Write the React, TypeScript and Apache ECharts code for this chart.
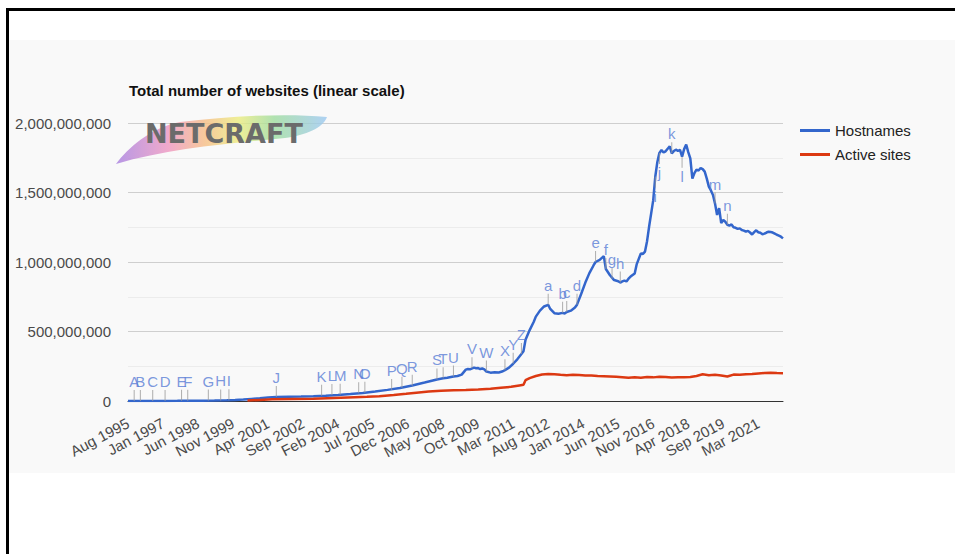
import React, { useEffect, useRef } from "react";
import * as echarts from "echarts";

const chartTitle = "Total number of websites (linear scale)";
const seriesNames = ["Hostnames", "Active sites"];
const logoText = "NETCRAFT";

// x = survey month index counted from Aug 1995; one tick label every 17 months
const tickLabels = [
  "Aug 1995", "Jan 1997", "Jun 1998", "Nov 1999", "Apr 2001", "Sep 2002", "Feb 2004",
  "Jul 2005", "Dec 2006", "May 2008", "Oct 2009", "Mar 2011", "Aug 2012", "Jan 2014",
  "Jun 2015", "Nov 2016", "Apr 2018", "Sep 2019", "Mar 2021",
];
const lastMonth = 318;

// [month index, millions]
const hostnames: [number, number][] = [
  [0, 0.02], [6, 0.1], [12, 0.3], [18, 0.7], [24, 1.2], [30, 1.8], [36, 2.5], [42, 3.5], [48, 5],
  [52, 7], [56, 10], [60, 15], [64, 20], [68, 26], [72, 29], [78, 31], [84, 32], [90, 34], [96, 37],
  [102, 43], [108, 50], [114, 58], [120, 68], [126, 80], [132, 94], [138, 112], [144, 133], [150, 155],
  [153, 163], [155, 168], [158, 176], [160, 180], [162, 190], [164, 226], [165, 230], [166, 228],
  [168, 240], [169, 236], [170, 237], [171, 230], [172, 234], [173, 228], [174, 212], [176, 204],
  [178, 206], [180, 205], [182, 214], [183, 222], [185, 240], [187, 268], [189, 300], [191, 338],
  [192, 358], [193, 440], [195, 510], [197, 570], [198, 607], [200, 650], [202, 680], [204, 692],
  [205, 662], [207, 632], [209, 628], [211, 634], [212, 630], [213, 640], [215, 650], [217, 672],
  [218, 693], [220, 770], [222, 850], [224, 920], [226, 975], [227, 1000], [229, 1015], [231, 1042],
  [232, 950], [234, 905], [236, 870], [238, 862], [239, 852], [240, 860], [241, 866], [242, 860],
  [243, 880], [244, 895], [246, 918], [247, 985], [249, 1062], [250, 1058], [251, 1075], [252, 1150],
  [253, 1255], [254, 1350], [255, 1445], [256, 1615], [257, 1720], [258, 1785], [259, 1805],
  [260, 1788], [261, 1796], [262, 1815], [263, 1832], [264, 1782], [265, 1798], [266, 1808],
  [267, 1800], [268, 1806], [269, 1758], [270, 1812], [271, 1845], [272, 1790], [273, 1745],
  [274, 1600], [275, 1640], [276, 1665], [277, 1658], [278, 1676], [279, 1668], [280, 1650],
  [281, 1600], [282, 1542], [283, 1515], [284, 1482], [285, 1420], [286, 1338], [287, 1388],
  [288, 1280], [289, 1302], [290, 1290], [291, 1268], [292, 1262], [293, 1270], [294, 1250],
  [295, 1246], [296, 1238], [297, 1242], [298, 1230], [299, 1226], [300, 1218], [301, 1224],
  [302, 1212], [303, 1198], [304, 1215], [305, 1228], [306, 1214], [307, 1210], [308, 1200],
  [309, 1204], [310, 1212], [311, 1218], [312, 1216], [313, 1212], [314, 1204], [315, 1196],
  [316, 1190], [317, 1182], [318, 1170],
];

const activeSites: [number, number][] = [
  [58, 3], [64, 8], [70, 12], [80, 15], [90, 17], [100, 22], [110, 27], [116, 30], [122, 35],
  [129, 43], [135, 52], [140, 60], [146, 68], [152, 74], [158, 78], [164, 80], [170, 83], [176, 88],
  [181, 95], [186, 102], [190, 112], [192, 117], [193, 150], [195, 165], [198, 180], [201, 190],
  [204, 194], [207, 192], [210, 188], [213, 186], [216, 188], [219, 187], [222, 184], [225, 183],
  [228, 180], [231, 178], [234, 176], [237, 174], [240, 171], [243, 168], [246, 170], [249, 168],
  [252, 172], [255, 170], [258, 174], [261, 172], [264, 169], [267, 171], [270, 170], [273, 173],
  [276, 180], [279, 192], [282, 186], [285, 188], [288, 184], [291, 176], [294, 190], [297, 189],
  [300, 192], [303, 194], [306, 198], [309, 202], [312, 204], [315, 201], [318, 200],
];

const annotationLetters = [
  "A", "B", "C", "D", "E", "F", "G", "H", "I", "J", "K", "L", "M", "N", "O", "P", "Q", "R", "S", "T",
  "U", "V", "W", "X", "Y", "Z", "a", "b", "c", "d", "e", "f", "g", "h", "i", "j", "k", "l", "m", "n",
];
const annotationMonths = [
  3, 6, 12, 18, 26, 29, 39, 45, 49, 72, 94, 99, 103, 112, 115, 128, 133, 138, 150, 153,
  158, 167, 174, 183, 187, 191, 204, 211, 213, 218, 227, 232, 235, 239, 256, 258, 264, 269, 285, 291,
];
const annotationValues = [
  0.03, 0.1, 0.3, 0.7, 1.5, 1.9, 2.8, 3.6, 4.5, 29, 37, 43, 45, 55, 60, 80, 95, 110, 155, 163,
  176, 235, 212, 222, 268, 338, 692, 634, 640, 693, 1000, 950, 880, 852, 1615, 1785, 1782, 1758, 1420, 1268,
];
const belowLetters = ["i", "j", "l"];

const swooshPath =
  "M116 164 C128 148 150 128 180 122 C230 116 285 113 327 117 C323 128 306 135 285 138 C235 143 170 148 116 164 Z";
echarts.graphic.registerShape("netcraftSwoosh", echarts.graphic.extendPath(swooshPath, {}) as any);

const fmtNum = (v: number) => String(Math.round(v)).replace(/\B(?=(\d{3})+(?!\d))/g, ",");

export default function App() {
  const ref = useRef<HTMLDivElement>(null);
  useEffect(() => {
    if (!ref.current) return;
    const chart = echarts.init(ref.current, undefined, { renderer: "svg" });
    const stem = 11;
    chart.setOption({
      animation: false,
      backgroundColor: "#ffffff",
      textStyle: { fontFamily: "Liberation Sans, Arial, sans-serif" },
      title: {
        text: chartTitle,
        left: 124,
        top: 78,
        textStyle: { fontSize: 15, fontWeight: "bold", color: "#111", fontFamily: "Liberation Sans, Arial, sans-serif" },
      },
      legend: {
        data: seriesNames,
        orient: "vertical",
        left: 795,
        top: 118,
        icon: "rect",
        itemWidth: 30,
        itemHeight: 3,
        itemGap: 9,
        textStyle: { fontSize: 15, color: "#222" },
      },
      grid: { left: 128, right: 172, top: 123, bottom: 153, containLabel: false },
      xAxis: {
        type: "value",
        min: 0,
        max: lastMonth,
        interval: 17,
        axisLine: { show: true, lineStyle: { color: "#333", width: 1 } },
        axisTick: { show: false },
        splitLine: { show: false },
        axisLabel: {
          rotate: 28,
          margin: 21,
          fontSize: 15,
          color: "#4a4a4a",
          showMaxLabel: false,
          formatter: (v: number) => {
            const k = v / 17;
            return Number.isInteger(k) && tickLabels[k] ? tickLabels[k] : "";
          },
        },
      },
      yAxis: {
        type: "value",
        min: 0,
        max: 2000000000,
        interval: 500000000,
        axisLine: { show: false },
        axisTick: { show: false },
        splitLine: { lineStyle: { color: "#cfcfcf", width: 1 } },
        minorTick: { show: false, splitNumber: 2 },
        minorSplitLine: { show: true, lineStyle: { color: "#ececec", width: 1 } },
        axisLabel: { fontSize: 15, color: "#4a4a4a", margin: 17, formatter: (v: number) => fmtNum(v) },
      },
      graphic: [
        { type: "rect", z: -20, shape: { x: 9, y: 40, width: 946, height: 433 }, style: { fill: "#f9f9f9" } },
        { type: "rect", z: 50, shape: { x: 6, y: 8, width: 949, height: 3 }, style: { fill: "#000" } },
        { type: "rect", z: 50, shape: { x: 6, y: 8, width: 3, height: 546 }, style: { fill: "#000" } },
        {
          type: "netcraftSwoosh",
          z: 5,
          x: 0,
          y: 0,
          style: {
            opacity: 0.8,
            fill: new echarts.graphic.LinearGradient(0, 0, 1, 0, [
              { offset: 0, color: "#a77fe0" },
              { offset: 0.25, color: "#ee96c0" },
              { offset: 0.42, color: "#f6bc84" },
              { offset: 0.58, color: "#ecec7e" },
              { offset: 0.75, color: "#9edc9e" },
              { offset: 1, color: "#9cc8f2" },
            ]),
          },
        },
        {
          type: "text",
          z: 6,
          x: 145,
          y: 133,
          style: {
            text: logoText,
            fontSize: 27,
            fontWeight: "bold",
            fontFamily: "DejaVu Sans",
            fill: "#6b6b6b",
            verticalAlign: "middle",
          },
        },
      ],
      series: [
        {
          name: seriesNames[0],
          type: "line",
          symbol: "none",
          z: 3,
          lineStyle: { color: "#3366cc", width: 2.5 },
          itemStyle: { color: "#3366cc" },
          data: hostnames.map(([m, v]) => [m, v * 1e6]),
        },
        {
          name: seriesNames[1],
          type: "line",
          symbol: "none",
          z: 4,
          lineStyle: { color: "#dc3912", width: 2.5 },
          itemStyle: { color: "#dc3912" },
          data: activeSites.map(([m, v]) => [m, v * 1e6]),
        },
        {
          name: "annotations",
          type: "scatter",
          z: 5,
          silent: true,
          symbol: "rect",
          symbolSize: [1, stem],
          symbolOffset: [0, -stem / 2],
          itemStyle: { color: "#9a9a9a" },
          label: {
            show: true,
            position: "top",
            distance: 1,
            color: "#5a7ed6",
            fontSize: 15,
            formatter: (p: any) => p.name,
          },
          data: annotationLetters.map((l, k) => {
            const below = belowLetters.includes(l);
            return {
              name: l,
              value: [annotationMonths[k], annotationValues[k] * 1e6],
              ...(below ? { symbolOffset: [0, stem / 2], label: { position: "bottom" } } : {}),
            };
          }),
        },
      ],
    });
    return () => chart.dispose();
  }, []);
  return (
    <div
      ref={ref}
      style={{ position: "fixed", left: 0, top: 0, width: 955, height: 554 }}
    />
  );
}
